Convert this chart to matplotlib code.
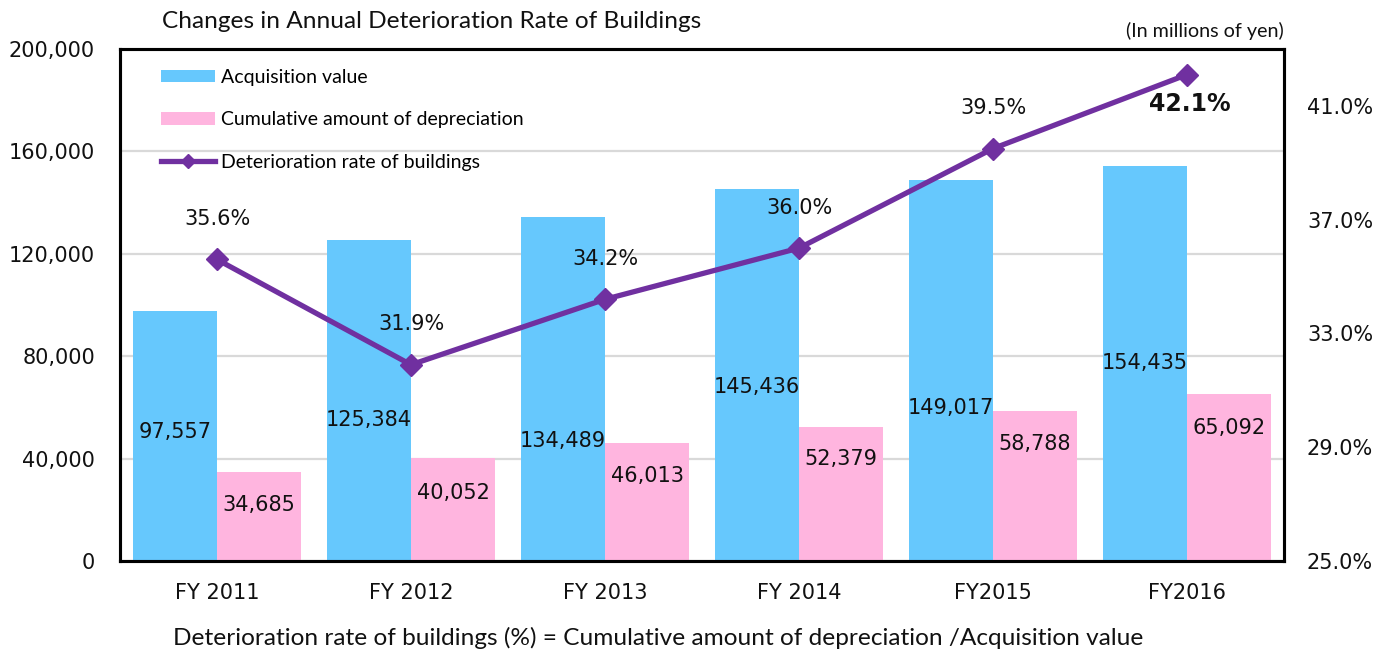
import matplotlib
matplotlib.use("Agg")
import matplotlib.pyplot as plt
from matplotlib.lines import Line2D
from matplotlib.patches import Patch
import numpy as np

years = ["FY 2011", "FY 2012", "FY 2013", "FY 2014", "FY2015", "FY2016"]
acquisition = [97557, 125384, 134489, 145436, 149017, 154435]
depreciation = [34685, 40052, 46013, 52379, 58788, 65092]
rate = [35.6, 31.9, 34.2, 36.0, 39.5, 42.1]

# vertical placement of the value labels inside the bars (data units)
acq_label_y = [50400, 55000, 46900, 68000, 59800, 77300]
dep_label_y = [21900, 26600, 33200, 39800, 45700, 52000]

BLUE = "#66C8FD"
PINK = "#FFB5DF"
PURPLE = "#7030A0"
NUM_FONT = "DejaVu Sans"
TXT_FONT = "Lato"

fig = plt.figure(figsize=(13.91, 6.52), dpi=100)
ax = fig.add_axes([120 / 1391, 91 / 652, 1164 / 1391, 512 / 652])
ax2 = ax.twinx()

x = np.arange(len(years))
w = 0.433
ax.bar(x - w / 2, acquisition, width=w, color=BLUE, zorder=2)
ax.bar(x + w / 2, depreciation, width=w, color=PINK, zorder=2)

for xi, v, ly in zip(x, acquisition, acq_label_y):
    ax.text(xi - w / 2, ly, f"{v:,}", ha="center", va="center",
            fontsize=15, family=NUM_FONT, color="#111111", zorder=3)
for xi, v, ly in zip(x, depreciation, dep_label_y):
    ax.text(xi + w / 2, ly, f"{v:,}", ha="center", va="center",
            fontsize=15, family=NUM_FONT, color="#111111", zorder=3)

ax.set_xlim(-0.5, len(years) - 0.5)
ax.set_ylim(0, 200000)
ax.set_yticks(np.arange(0, 200001, 40000))
ax.set_yticklabels([f"{int(t):,}" for t in np.arange(0, 200001, 40000)],
                   fontsize=15, family=NUM_FONT, color="#111111")
ax.set_xticks(x)
ax.set_xticklabels(years, fontsize=15, family=NUM_FONT, color="#111111")
ax.tick_params(axis="y", length=0, pad=18)
ax.tick_params(axis="x", length=0, pad=16)
ax.grid(axis="y", color="#D9D9D9", linewidth=1.6, zorder=0)
ax.set_axisbelow(True)

ax2.plot(x, rate, color=PURPLE, linewidth=3.8, marker="D", markersize=11,
         zorder=5)
ax2.set_ylim(25, 43)
ax2.set_yticks([25, 29, 33, 37, 41])
ax2.set_yticklabels([f"{t:.1f}%" for t in [25, 29, 33, 37, 41]],
                    fontsize=15, family=NUM_FONT, color="#111111")
ax2.tick_params(axis="y", length=0, pad=16.5)

for i, (xi, r) in enumerate(zip(x, rate)):
    if i == len(rate) - 1:
        ax2.annotate(f"{r:.1f}%", (xi, r), xytext=(2, -21),
                     textcoords="offset points", ha="center", va="center",
                     fontsize=17, fontweight="bold", family=NUM_FONT,
                     color="#111111")
    else:
        ax2.annotate(f"{r:.1f}%", (xi, r), xytext=(0, 29),
                     textcoords="offset points", ha="center", va="center",
                     fontsize=15, family=NUM_FONT, color="#111111")

for a in (ax, ax2):
    for s in a.spines.values():
        s.set_color("black")
        s.set_linewidth(2.2)

handles = [
    Patch(facecolor=BLUE, edgecolor="none"),
    Patch(facecolor=PINK, edgecolor="none"),
    Line2D([0], [0], color=PURPLE, linewidth=3.8, marker="D", markersize=7),
]
labels = ["Acquisition value", "Cumulative amount of depreciation",
          "Deterioration rate of buildings"]
leg = ax2.legend(handles, labels, loc="upper left",
                 bbox_to_anchor=(0.02, 0.995), frameon=False,
                 prop={"family": TXT_FONT, "size": 14},
                 handlelength=2.8, handleheight=0.6, handletextpad=0.3,
                 labelspacing=1.3)

fig.text(162 / 1391, 1 - 22 / 652, "Changes in Annual Deterioration Rate of Buildings",
         ha="left", va="center", fontsize=17.6, family=TXT_FONT, color="#111111")
fig.text(1284 / 1391, 1 - 31 / 652, "(In millions of yen)",
         ha="right", va="center", fontsize=14.2, family=TXT_FONT, color="#111111")
fig.text(658 / 1391, 1 - 638 / 652,
         "Deterioration rate of buildings (%) = Cumulative amount of depreciation /Acquisition value",
         ha="center", va="center", fontsize=17.6, family=TXT_FONT, color="#111111")

fig.savefig("out.png", dpi=100)
